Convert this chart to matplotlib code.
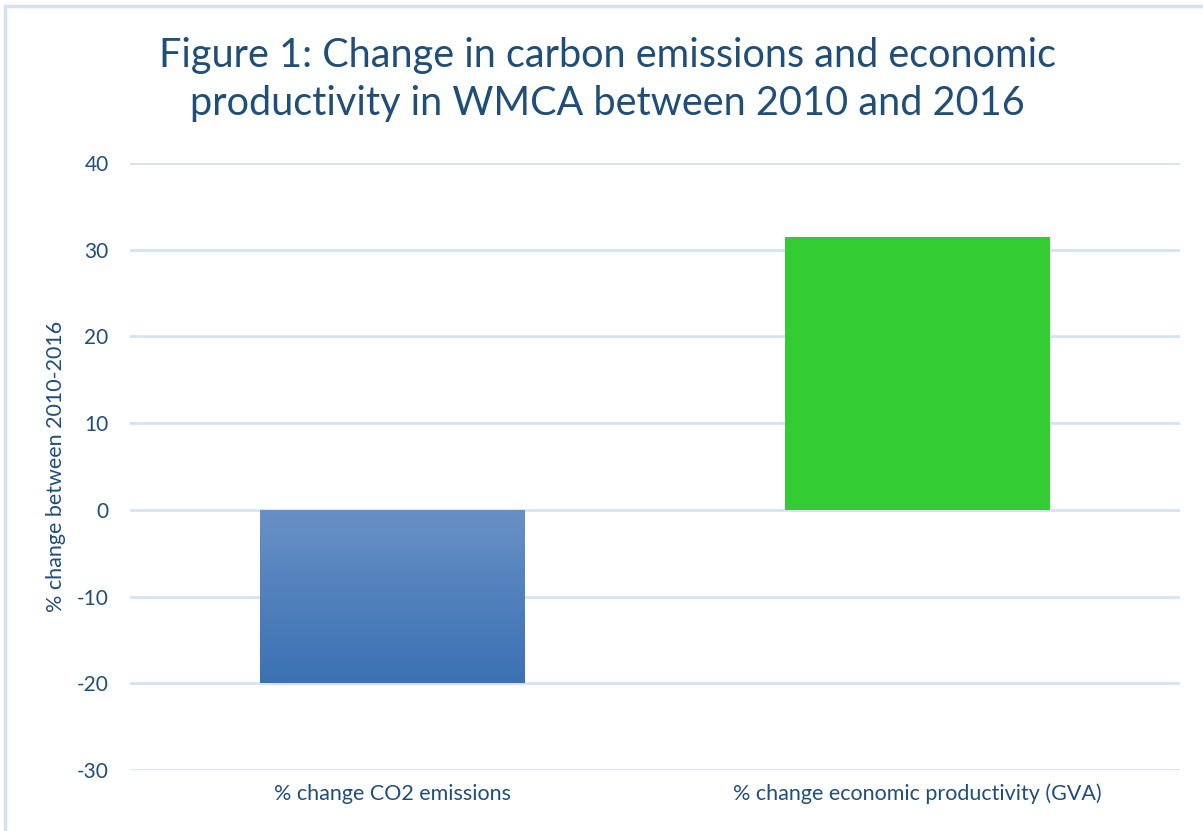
import numpy as np
import matplotlib.pyplot as plt
from matplotlib.lines import Line2D
from matplotlib.colors import LinearSegmentedColormap

# Данные
categories = ['% change CO2 emissions', '% change economic productivity (GVA)']
values = [-20.0, 31.5]
yticks = [-30, -20, -10, 0, 10, 20, 30, 40]

plt.rcParams['font.family'] = ['Lato', 'DejaVu Sans']
text_color = '#1F4E79'
grid_color = '#D6E2F2'

fig = plt.figure(figsize=(12.03, 8.31), dpi=100)
ax = fig.add_axes([0.1077, 0.0734, 0.8733, 0.7305])

x = np.arange(len(categories))
bars = ax.bar(x, values, width=0.503, color=['#4A7EBF', '#33CC33'], zorder=3)

# Градиент для первого столбца
b = bars[0]
grad = np.linspace(0, 1, 256).reshape(-1, 1)
cmap = LinearSegmentedColormap.from_list('g', ['#6890C6', '#3B71B3'])
bx, by = b.get_x(), b.get_y()
bw, bh = b.get_width(), b.get_height()
im = ax.imshow(grad, cmap=cmap, aspect='auto', zorder=4,
               extent=[bx, bx + bw, by + bh, by], origin='upper')
im.set_clip_path(b)

ax.set_xlim(-0.5, 1.5)
ax.set_ylim(-30, 40)
ax.set_yticks(yticks)
ax.set_yticklabels([str(t) for t in yticks], fontsize=15, color=text_color)
ax.set_xticks(x)
ax.set_xticklabels(categories, fontsize=15.5, color=text_color)
ax.tick_params(axis='both', length=0)
ax.tick_params(axis='y', pad=15)
ax.tick_params(axis='x', pad=10)
ax.grid(axis='y', color=grid_color, linewidth=2, zorder=0)
for s in ax.spines.values():
    s.set_visible(False)

ax.set_ylabel('% change between 2010-2016', fontsize=15.5, color=text_color, labelpad=8)

fig.text(0.505, 0.955, 'Figure 1: Change in carbon emissions and economic\nproductivity in WMCA between 2010 and 2016',
         ha='center', va='top', fontsize=28.5, color=text_color, linespacing=1.36)

# Рамка
fig.add_artist(Line2D([0.0045, 1.0], [0.9925, 0.9925], color=grid_color, linewidth=2.5, transform=fig.transFigure))
fig.add_artist(Line2D([0.0045, 0.0045], [0.0, 0.9925], color=grid_color, linewidth=2.5, transform=fig.transFigure))

fig.savefig('out.png', dpi=100)
